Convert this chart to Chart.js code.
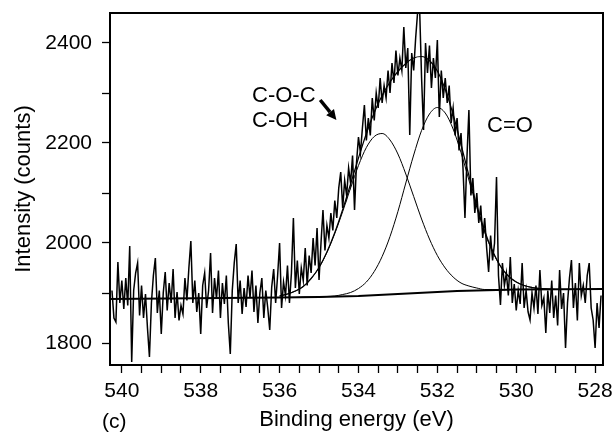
<!DOCTYPE html>
<html>
<head>
<meta charset="utf-8">
<script src="https://cdn.jsdelivr.net/npm/chart.js@4/dist/chart.umd.min.js"></script>
<style>
  html, body { margin: 0; padding: 0; background: #fff; }
  #wrap { position: relative; width: 614px; height: 433px; overflow: hidden; background: #fff; }
  canvas { position: absolute; left: 0; top: 0; }
  .lbl { position: absolute; font-family: "Liberation Sans", Arial, sans-serif; color: #000; white-space: nowrap; }
</style>
</head>
<body>
<div id="wrap">
  <canvas id="c" width="614" height="433"></canvas>
  <div class="lbl" style="left:252px; top:84px; font-size:22px; line-height:22px;">C-O-C</div>
  <div class="lbl" style="left:252px; top:109px; font-size:22px; line-height:22px;">C-OH</div>
  <div class="lbl" style="left:487px; top:114px; font-size:22px; line-height:22px;">C=O</div>
  <div class="lbl" style="left:102px; top:410px; font-size:21px; line-height:21px;">(c)</div>
</div>
<script>
// ---- sampling grid of the measured spectrum (eV), 0.05 eV steps ----
const specStart = 540.25;
const specStep = 0.05;

const spectrumCounts = [
  1905,1850,1842,1962,1880,1925,1868,1930,1875,1994,
  1762,1905,1940,1960,1855,1915,1850,1898,1830,1772,
  1880,1935,1970,1860,1905,1818,1900,1942,1865,1920,
  1880,1948,1850,1902,1845,1875,1858,1930,1885,1950,
  2004,1880,1925,1862,1900,1818,1915,1940,1870,1905,
  1980,1860,1930,1888,1945,1850,1920,1878,1935,1840,
  1778,1905,1960,1998,1880,1925,1858,1910,1872,1935,
  1890,1945,1862,1915,1840,1900,1930,1850,1905,1870,
  1826,1912,1948,1880,1935,2000,1870,1922,1895,1955,
  1880,1940,2050,1910,1965,1898,1950,1925,1990,1915,
  1975,1940,2010,1955,2030,1926,2000,2066,1985,2035,
  2010,2060,2025,2085,2050,2110,2142,2070,2125,2095,
  2150,2120,2175,2066,2160,2212,2180,2230,2276,2205,
  2250,2215,2290,2245,2300,2270,2330,2280,2315,2290,
  2345,2300,2360,2320,2385,2335,2370,2345,2432,2350,
  2390,2216,2380,2345,2410,2462,2470,2330,2226,2400,
  2340,2395,2310,2370,2330,2406,2252,2345,2290,2330,
  2280,2315,2240,2270,2215,2250,2185,2220,2150,2050,
  2170,2266,2095,2130,2060,2100,2040,2075,2010,2050,
  1990,1942,2015,1965,2000,2132,1935,1876,1960,1915,
  1940,1895,1972,1880,1918,1865,1905,1878,1960,1870,
  1905,1862,1846,1900,1870,1915,1858,1946,1875,1890,
  1820,1905,1860,1925,1850,1895,1835,1946,1868,1900,
  1790,1880,1930,1966,1870,1920,1845,1960,1895,1915,
  1880,1935,1960,1870,1846,1790,1880,1830,1895
];

// ---- fitted background (eV, counts) ----
const baseEnergy = [540.3, 536, 535, 534, 533.5, 533, 532.5, 532, 531.5, 531, 530, 527.8];
const baseCounts = [1888, 1891, 1892, 1894, 1896, 1898, 1900, 1902, 1904, 1905, 1907, 1908];

// ---- fitted components (absolute counts) on a 0.2 eV grid ----
const fitEnergy = [536.0,535.8,535.6,535.4,535.2,535.0,534.8,534.6,534.4,534.2,534.0,533.8,533.6,533.4,533.2,533.0,
  532.8,532.6,532.4,532.2,532.0,531.8,531.6,531.4,531.2,531.0,530.8,530.6,530.4,530.2,530.0,529.8,529.6,529.4,529.2,529.0];
const fitCOC = [1894,1898,1904,1913,1929,1951,1981,2019,2063,2110,2155,2191,2213,2219,2206,2178,
  2138,2093,2048,2008,1975,1950,1932,1920,1914,1910,1907,1907,1906,1907,1907,1907,1907,1907,1907,1907];
const fitCO = [1891,1891,1891,1892,1892,1892,1893,1894,1897,1901,1909,1922,1943,1973,2013,2063,
  2120,2176,2225,2258,2271,2260,2228,2181,2126,2071,2021,1983,1953,1934,1922,1915,1911,1909,1908,1907];
const fitSum = [1894,1898,1904,1913,1929,1951,1982,2021,2067,2118,2170,2219,2261,2295,2322,2343,
  2359,2370,2373,2365,2344,2307,2257,2197,2135,2075,2024,1984,1954,1934,1922,1915,1911,1909,1908,1907];

// ---- axes ----
const xTicks = [528,528.5,529,529.5,530,530.5,531,531.5,532,532.5,533,533.5,534,534.5,535,535.5,536,536.5,537,537.5,538,538.5,539,539.5,540];
const xLabels = [528,530,532,534,536,538,540];
const yTicks = [1800,1850,1900,1950,2000,2050,2100,2150,2200,2250,2300,2350,2400,2450];
const yLabels = [1800,2000,2200,2400];

// ---- annotation arrow (eV, counts) ----
const arrowFrom = [534.97, 2286];
const arrowTo = [534.56, 2246];

const FONT = "'Liberation Sans', Arial, sans-serif";

const specPoints = spectrumCounts.map((v, i) => ({ x: +(specStart - i * specStep).toFixed(2), y: v }));
const toPts = (xs, ys) => xs.map((x, i) => ({ x: x, y: ys[i] }));

const framePlugin = {
  id: 'frame',
  afterDraw(chart) {
    const { ctx, chartArea: a, scales } = chart;
    ctx.save();
    ctx.strokeStyle = '#000';
    ctx.lineWidth = 2;
    ctx.strokeRect(a.left, a.top, a.right - a.left, a.bottom - a.top);
    // arrow
    const x0 = scales.x.getPixelForValue(arrowFrom[0]), y0 = scales.y.getPixelForValue(arrowFrom[1]);
    const x1 = scales.x.getPixelForValue(arrowTo[0]), y1 = scales.y.getPixelForValue(arrowTo[1]);
    const ang = Math.atan2(y1 - y0, x1 - x0);
    const hl = 10, hw = 5;
    const bx = x1 - hl * Math.cos(ang), by = y1 - hl * Math.sin(ang);
    ctx.lineWidth = 3.5;
    ctx.lineCap = 'butt';
    ctx.beginPath(); ctx.moveTo(x0, y0); ctx.lineTo(bx, by); ctx.stroke();
    ctx.fillStyle = '#000';
    ctx.beginPath();
    ctx.moveTo(x1, y1);
    ctx.lineTo(bx + hw * Math.sin(ang), by - hw * Math.cos(ang));
    ctx.lineTo(bx - hw * Math.sin(ang), by + hw * Math.cos(ang));
    ctx.closePath(); ctx.fill();
    ctx.restore();
  }
};

new Chart(document.getElementById('c'), {
  type: 'line',
  data: {
    datasets: [
      { label: 'spectrum', data: specPoints, borderColor: '#000', borderWidth: 1.5, pointRadius: 0, tension: 0, order: 1 },
      { label: 'background', data: toPts(baseEnergy, baseCounts), borderColor: '#000', borderWidth: 2.2, pointRadius: 0, tension: 0, order: 2 },
      { label: 'C-O-C / C-OH', data: toPts(fitEnergy, fitCOC), borderColor: '#000', borderWidth: 1, pointRadius: 0, cubicInterpolationMode: 'monotone', order: 3 },
      { label: 'C=O', data: toPts(fitEnergy, fitCO), borderColor: '#000', borderWidth: 1, pointRadius: 0, cubicInterpolationMode: 'monotone', order: 4 },
      { label: 'envelope', data: toPts(fitEnergy, fitSum), borderColor: '#000', borderWidth: 1.2, pointRadius: 0, cubicInterpolationMode: 'monotone', order: 5 }
    ]
  },
  options: {
    responsive: false,
    animation: false,
    events: [],
    layout: { padding: { top: 13, right: 11, left: 0, bottom: 0 } },
    plugins: { legend: { display: false }, tooltip: { enabled: false } },
    scales: {
      x: {
        type: 'linear', reverse: true, min: 527.8, max: 540.3, position: 'bottom',
        afterFit: s => { s.height = 68; s.paddingLeft = 0; s.paddingRight = 0; },
        afterBuildTicks: s => { s.ticks = xTicks.map(v => ({ value: v })); },
        border: { display: false },
        grid: { drawOnChartArea: false, drawTicks: true, tickLength: 8, color: '#000', tickWidth: 1.3 },
        ticks: {
          autoSkip: false, maxRotation: 0, minRotation: 0, padding: 6, color: '#000',
          font: { family: FONT, size: 21 },
          callback: v => (xLabels.includes(v) ? String(v) : '')
        },
        title: { display: true, text: 'Binding energy (eV)', color: '#000', font: { family: FONT, size: 22 }, padding: { top: 0, bottom: 0 } }
      },
      y: {
        type: 'linear', min: 1756, max: 2460,
        afterFit: s => { s.width = 110; s.paddingTop = 0; s.paddingBottom = 0; },
        afterBuildTicks: s => { s.ticks = yTicks.map(v => ({ value: v })); },
        border: { display: false },
        grid: { drawOnChartArea: false, drawTicks: true, tickLength: 8, color: '#000', tickWidth: 1.3 },
        ticks: {
          padding: 10, color: '#000',
          font: { family: FONT, size: 21 },
          callback: v => (yLabels.includes(v) ? String(v) : '')
        },
        title: { display: true, text: 'Intensity (counts)', color: '#000', font: { family: FONT, size: 22 }, padding: { top: 11, bottom: 0 } }
      }
    }
  },
  plugins: [framePlugin]
});
</script>
</body>
</html>
